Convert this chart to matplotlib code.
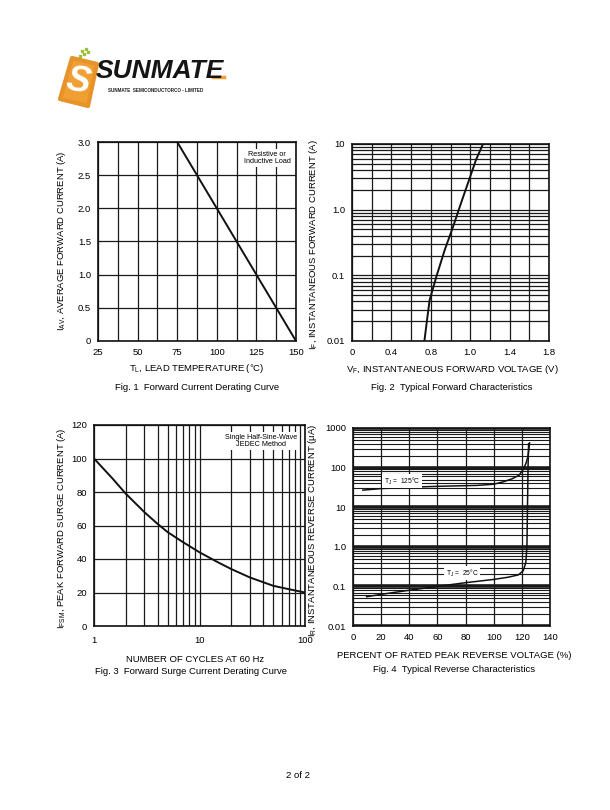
import numpy as np
import matplotlib
matplotlib.use('Agg')
import matplotlib.pyplot as plt
from matplotlib.patches import Polygon
from matplotlib.ticker import FixedLocator, NullFormatter, LogLocator, FixedFormatter

plt.rcParams['font.family'] = ['Liberation Sans', 'DejaVu Sans']
plt.rcParams['mathtext.default'] = 'regular'

W, H = 610, 810

# Fig. 1  forward current derating
lead_temp = [25, 75, 150]
avg_current = [3.0, 3.0, 0.0]

# Fig. 2  forward characteristics (V, A)
vf = [0.735, 0.76, 0.788, 0.828, 0.87, 0.913, 0.955, 0.997, 1.06, 1.13]
i_f = [0.01, 0.02, 0.042, 0.095, 0.24, 0.55, 1.3, 3.0, 5.8, 10]
vf_ticks = [0, 0.4, 0.8, 1.0, 1.4, 1.8]
vf_grid = [0, 0.2, 0.4, 0.6, 0.8, 0.9, 1.0, 1.2, 1.4, 1.6, 1.8]

# Fig. 3  surge current vs cycles
cycles = [1, 1.5, 2, 3, 4, 5, 7, 10, 15, 20, 30, 50, 70, 100]
surge = [100, 88, 79, 68, 61, 56, 50, 44, 38, 34, 29, 24, 22, 20]

# Fig. 4  reverse characteristics (% of VRRM, uA)
pct_125 = [7, 20, 40, 65, 88, 100, 107, 113, 118, 121, 123, 124.3, 125.5]
ir_125 = [27, 29.5, 32, 34, 35.5, 38, 44, 52, 64, 90, 130, 190, 420]
pct_25 = [9.7, 20, 40, 60, 80, 100, 110, 117.5, 121, 122.8, 123.6, 124, 124.4, 124.8]
ir_25 = [0.055, 0.063, 0.08, 0.1, 0.124, 0.15, 0.17, 0.195, 0.25, 0.4, 1, 10, 100, 400]

GRID = '#1a1a1a'
FS = 6.8


def px_axes(fig, left, top, right, bottom):
    return fig.add_axes([left / W, 1 - bottom / H, (right - left) / W, (bottom - top) / H])


def ftext(fig, x, y, s, **kw):
    kw.setdefault('fontsize', FS)
    kw.setdefault('ha', 'center')
    kw.setdefault('va', 'center')
    fig.text(x / W, 1 - y / H, s, **kw)


def style(ax):
    ax.tick_params(which='both', length=0, labelsize=FS, pad=5)
    for s in ax.spines.values():
        s.set_linewidth(1.2)
        s.set_color('#111111')
    ax.set_axisbelow(True)


fig = plt.figure(figsize=(W / 100, H / 100), dpi=100)

# ---- logo ----
lg = fig.add_axes([0, 0, 1, 1])
lg.set_xlim(0, W)
lg.set_ylim(H, 0)
lg.axis('off')
lg.add_patch(Polygon([(72, 58), (97, 64), (88, 106), (60, 99)], closed=True,
                     facecolor='#f0a033', edgecolor='#e8922a', lw=3, joinstyle='round'))
lg.text(78, 82, 'S', fontsize=26, color='white', fontweight='bold', style='italic',
        ha='center', va='center', rotation=-10)
for dx, dy in [(0, 0), (4, -2), (8, -4), (2, -5), (6, -7)]:
    lg.plot(80 + dx, 56 + dy, 's', ms=1.8, color='#9bbf3a')
lg.text(96, 71, 'SUNMATE', fontsize=19, fontweight='bold', style='italic',
        color='#151515', ha='left', va='center')
lg.plot([213, 224], [77, 77], color='#f0a033', lw=2.5)
lg.text(108, 91, 'SUNMATE  SEMICONDUCTORCO - LIMITED', fontsize=3.3,
        fontweight='bold', color='#222222', ha='left', va='center')

# ---- Fig. 1 ----
ax1 = px_axes(fig, 98, 142, 296, 341)
ax1.plot(lead_temp, avg_current, color='#111111', lw=1.4)
ax1.set_xlim(25, 150)
ax1.set_ylim(0, 3.0)
ax1.xaxis.set_major_locator(FixedLocator([25, 50, 75, 100, 125, 150]))
ax1.xaxis.set_minor_locator(FixedLocator(np.arange(37.5, 150, 25)))
ax1.yaxis.set_major_locator(FixedLocator([0, 0.5, 1.0, 1.5, 2.0, 2.5, 3.0]))
ax1.yaxis.set_major_formatter(FixedFormatter(['0', '0.5', '1.0', '1.5', '2.0', '2.5', '3.0']))
ax1.grid(which='both', color=GRID, lw=0.9)
style(ax1)
ax1.text(0.855, 0.955, 'Resistive or\nInductive Load', transform=ax1.transAxes,
         fontsize=5.2, ha='center', va='top', linespacing=1.0,
         bbox=dict(facecolor='white', edgecolor='none', pad=1.5))
ftext(fig, 62, 241, '$I_{AV}$, AVERAGE FORWARD CURRENT (A)', rotation=90)
ftext(fig, 197, 369, '$T_L$, LEAD TEMPERATURE (°C)')
ftext(fig, 197, 388, 'Fig. 1  Forward Current Derating Curve')

# ---- Fig. 2 ----
pos_pts = [0, 2, 4, 6, 8, 10]


def v_fwd(v):
    return np.interp(v, vf_ticks, pos_pts)


def v_inv(p):
    return np.interp(p, pos_pts, vf_ticks)


ax2 = px_axes(fig, 352, 144, 549, 341)
ax2.set_xscale('function', functions=(v_fwd, v_inv))
ax2.set_yscale('log')
ax2.plot(vf, i_f, color='#111111', lw=1.4)
ax2.set_xlim(0, 1.8)
ax2.set_ylim(0.01, 10)
ax2.xaxis.set_major_locator(FixedLocator(vf_ticks))
ax2.xaxis.set_major_formatter(FixedFormatter(['0', '0.4', '0.8', '1.0', '1.4', '1.8']))
ax2.xaxis.set_minor_locator(FixedLocator(vf_grid))
ax2.xaxis.set_minor_formatter(NullFormatter())
ax2.yaxis.set_major_locator(FixedLocator([0.01, 0.1, 1, 10]))
ax2.yaxis.set_major_formatter(FixedFormatter(['0.01', '0.1', '1.0', '10']))
ax2.yaxis.set_minor_locator(LogLocator(base=10, subs=np.arange(2, 10)))
ax2.yaxis.set_minor_formatter(NullFormatter())
ax2.grid(which='both', color=GRID, lw=0.9)
style(ax2)
ftext(fig, 314, 245, '$I_F$, INSTANTANEOUS FORWARD CURRENT (A)', rotation=90)
ftext(fig, 452, 370, '$V_F$, INSTANTANEOUS FORWARD VOLTAGE (V)')
ftext(fig, 452, 388, 'Fig. 2  Typical Forward Characteristics')

# ---- Fig. 3 ----
ax3 = px_axes(fig, 94, 425, 305, 626)
ax3.set_xscale('log')
ax3.plot(cycles, surge, color='#111111', lw=1.4)
ax3.set_xlim(1, 100)
ax3.set_ylim(0, 120)
ax3.xaxis.set_major_locator(FixedLocator([1, 10, 100]))
ax3.xaxis.set_major_formatter(FixedFormatter(['1', '10', '100']))
ax3.xaxis.set_minor_locator(LogLocator(base=10, subs=np.arange(2, 10)))
ax3.xaxis.set_minor_formatter(NullFormatter())
ax3.yaxis.set_major_locator(FixedLocator(np.arange(0, 121, 20)))
ax3.grid(which='both', color=GRID, lw=0.9)
style(ax3)
ax3.tick_params(axis='x', pad=7)
ax3.text(0.79, 0.955, 'Single Half-Sine-Wave\nJEDEC Method', transform=ax3.transAxes,
         fontsize=5.2, ha='center', va='top', linespacing=1.0,
         bbox=dict(facecolor='white', edgecolor='none', pad=1.5))
ftext(fig, 62, 528, '$I_{FSM}$, PEAK FORWARD SURGE CURRENT (A)', rotation=90)
ftext(fig, 195, 660, 'NUMBER OF CYCLES AT 60 Hz')
ftext(fig, 191, 671, 'Fig. 3  Forward Surge Current Derating Curve')

# ---- Fig. 4 ----
ax4 = px_axes(fig, 353, 428, 550, 626)
ax4.set_yscale('log')
ax4.plot(pct_125, ir_125, color='#111111', lw=1.1)
ax4.plot(pct_25, ir_25, color='#111111', lw=1.1)
ax4.set_xlim(0, 140)
ax4.set_ylim(0.01, 1000)
ax4.xaxis.set_major_locator(FixedLocator(np.arange(0, 141, 20)))
ax4.yaxis.set_major_locator(FixedLocator([0.01, 0.1, 1, 10, 100, 1000]))
ax4.yaxis.set_major_formatter(FixedFormatter(['0.01', '0.1', '1.0', '10', '100', '1000']))
ax4.yaxis.set_minor_locator(LogLocator(base=10, subs=np.arange(2, 10)))
ax4.yaxis.set_minor_formatter(NullFormatter())
ax4.grid(which='minor', axis='y', color=GRID, lw=0.8)
ax4.grid(which='major', axis='y', color=GRID, lw=2.6)
ax4.grid(which='major', axis='x', color=GRID, lw=0.9)
style(ax4)
ax4.text((402 - 353) / 197, 1 - (481 - 428) / 198, '$T_J$ =  125°C',
         transform=ax4.transAxes, fontsize=4.8, ha='center', va='center',
         bbox=dict(facecolor='white', edgecolor='none', pad=1.0))
ax4.text((462 - 353) / 197, 1 - (573 - 428) / 198, '$T_J$ =  25°C',
         transform=ax4.transAxes, fontsize=4.8, ha='center', va='center',
         bbox=dict(facecolor='white', edgecolor='none', pad=1.0))
ftext(fig, 313, 530, '$I_R$, INSTANTANEOUS REVERSE CURRENT (μA)', rotation=90)
ftext(fig, 454, 655, 'PERCENT OF RATED PEAK REVERSE VOLTAGE (%)')
ftext(fig, 454, 670, 'Fig. 4  Typical Reverse Characteristics')

ftext(fig, 298, 776, '2 of 2', fontsize=6.8)

fig.savefig('out.png', dpi=100)
